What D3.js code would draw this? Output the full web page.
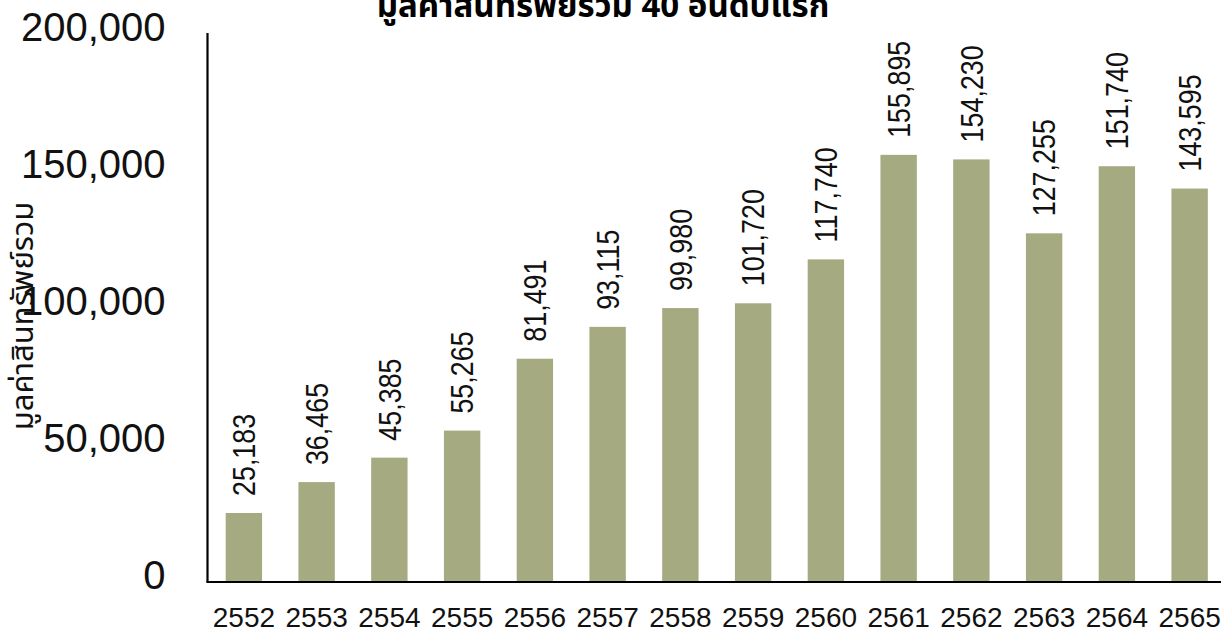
<!DOCTYPE html>
<html><head><meta charset="utf-8">
<script src="https://cdn.jsdelivr.net/npm/d3@7"></script>
<style>
html,body{margin:0;padding:0;background:#fff;}
svg{display:block;}
</style></head>
<body>
<script>
const years = ["2552","2553","2554","2555","2556","2557","2558","2559","2560","2561","2562","2563","2564","2565"];
const totalAssets = [25183,36465,45385,55265,81491,93115,99980,101720,117740,155895,154230,127255,151740,143595];
const yTicks = [0,50000,100000,150000,200000];
const titleText = "มูลค่าสินทรัพย์รวม 40 อันดับแรก";
const yTitleText = "มูลค่าสินทรัพย์รวม";

const W = 1224, H = 632;
const svg = d3.select("body").append("svg").attr("width", W).attr("height", H);

const x = d3.scaleBand().domain(years).range([207.5, 1226]).paddingInner(0.5).paddingOuter(0.25);
const y = d3.scaleLinear().domain([0, 200000]).range([582, 34]);
const fmt = d3.format(",");
const font = "'Liberation Sans', 'Noto Sans', 'Noto Sans Thai', sans-serif";

// bars
svg.append("g").selectAll("rect").data(totalAssets).join("rect")
  .attr("x", (d,i) => x(years[i]))
  .attr("width", x.bandwidth())
  .attr("y", d => y(d))
  .attr("height", d => y(0) - y(d))
  .attr("fill", "#a5aa80");

// data labels
svg.append("g").selectAll("text").data(totalAssets).join("text")
  .attr("transform", (d,i) => `translate(${x(years[i]) + x.bandwidth()/2},${y(d) - 17}) rotate(-90) scale(0.84,1)`)
  .attr("dy", "0.35em")
  .attr("text-anchor", "start")
  .attr("font-family", font)
  .attr("font-size", 32)
  .attr("fill", "#111")
  .text(d => fmt(d));

// y axis
const yAxis = svg.append("g").attr("transform", "translate(207.5,0)")
  .call(d3.axisLeft(y).tickValues(yTicks).tickSize(0).tickPadding(42).tickFormat(fmt));
yAxis.select(".domain").attr("stroke", "#000").attr("stroke-width", 2.2).attr("d", `M0,${y(200000)-1}V${y(0)}`);
yAxis.selectAll("text").attr("font-family", font).attr("font-size", 40).attr("fill", "#111").attr("dy", "0.17em");

// x axis
const xAxis = svg.append("g").attr("transform", `translate(0,${y(0)})`)
  .call(d3.axisBottom(x).tickSize(0).tickPadding(25));
xAxis.select(".domain").attr("stroke", "#000").attr("stroke-width", 2.2).attr("d", "M206.4,0H1221");
xAxis.selectAll("text").attr("font-family", font).attr("font-size", 28).attr("fill", "#111");

// y axis title
svg.append("text")
  .attr("transform", "translate(22,316) rotate(-90)")
  .attr("text-anchor", "middle")
  .attr("dy", "0.35em")
  .attr("font-family", "'Noto Sans Thai', 'Noto Sans', sans-serif")
  .attr("font-size", 31)
  .attr("fill", "#111")
  .text(yTitleText);

// title
svg.append("text")
  .attr("x", 603).attr("y", 17)
  .attr("text-anchor", "middle")
  .attr("font-family", "'Noto Sans Thai', 'Noto Sans', sans-serif")
  .attr("font-weight", "bold")
  .attr("font-size", 33)
  .attr("fill", "#000")
  .text(titleText);
</script>
</body></html>
